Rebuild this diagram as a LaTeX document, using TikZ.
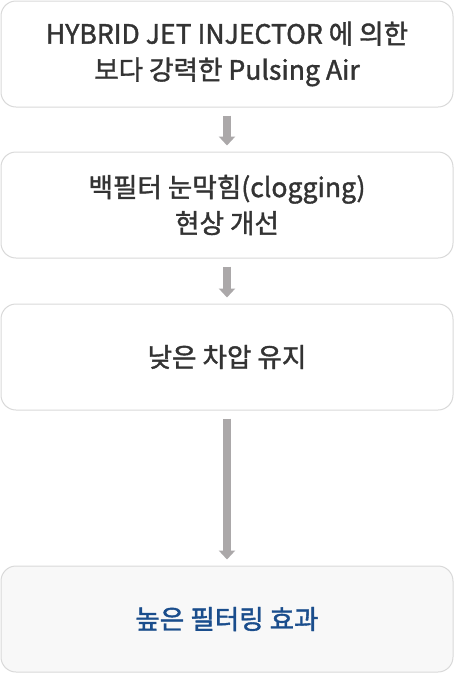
\documentclass[tikz,border=0pt]{standalone}
\usepackage{fontspec}
\setmainfont{Noto Sans CJK KR}[FakeBold=1.4]
\usetikzlibrary{arrows.meta}
\definecolor{boxline}{HTML}{D9D9D9}
\definecolor{txt}{HTML}{333333}
\definecolor{bluetxt}{HTML}{1A4D8C}
\definecolor{arrowgray}{HTML}{ABA8A9}
\definecolor{lastfill}{HTML}{F8F8F8}
\tikzset{
  stepbox/.style={draw=boxline, line width=1pt, rounded corners=15pt, fill=white,
    minimum width=452pt, minimum height=106pt, align=center, text=txt,
    font=\fontsize{26.6}{36}\selectfont, inner sep=0pt},
  flowarrow/.style={draw=arrowgray, line width=8pt,
    -{Triangle[width=16pt,length=9pt]}, shorten <=8pt, shorten >=6pt}
}
\begin{document}
\begin{tikzpicture}[x=1pt,y=1pt]
\useasboundingbox (0,0) rectangle (454,-673);
\node[stepbox] (b1) at (227,-54) {HYBRID JET INJECTOR 에 의한\\보다 강력한 Pulsing Air};
\node[stepbox] (b2) at (227,-205) {백필터 눈막힘(clogging)\\현상 개선};
\node[stepbox] (b3) at (227,-357) {낮은 차압 유지};
\node[stepbox, fill=lastfill, text=bluetxt] (b4) at (227,-619) {높은 필터링 효과};
\draw[flowarrow] (b1.south) -- (b2.north);
\draw[flowarrow] (b2.south) -- (b3.north);
\draw[flowarrow] (b3.south) -- (b4.north);
\end{tikzpicture}
\end{document}
